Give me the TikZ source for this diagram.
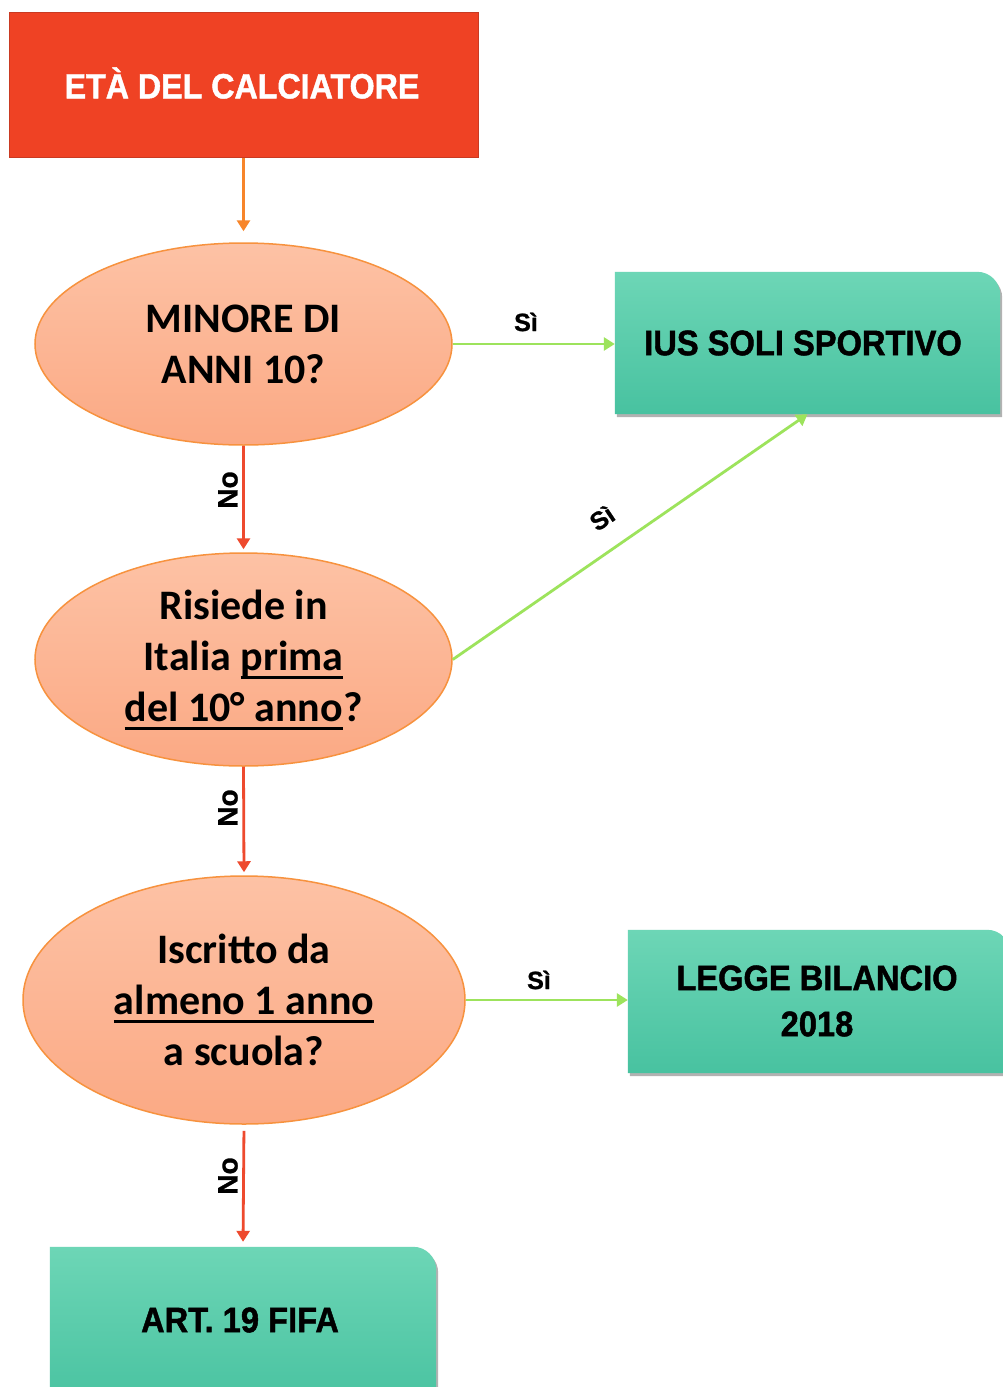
\documentclass[tikz,border=0pt]{standalone}
\usepackage{fontspec}
\setmainfont{Carlito}
\newfontfamily\boxfont[FakeStretch=0.92, BoldFeatures={FakeBold=1.3}]{Liberation Sans}
\newfontfamily\lblfont[BoldFeatures={FakeBold=1}]{Liberation Sans}
\usetikzlibrary{arrows.meta,shapes.geometric,shadows}
\definecolor{topred}{HTML}{EF4224}
\definecolor{topredborder}{HTML}{C93A22}
\definecolor{peachtop}{HTML}{FDC2A5}
\definecolor{peachbot}{HTML}{FBA984}
\definecolor{peachborder}{HTML}{F7923E}
\definecolor{tealtop}{HTML}{6DD6B6}
\definecolor{tealbot}{HTML}{48C2A0}
\definecolor{arrorange}{HTML}{F7852A}
\definecolor{arrred}{HTML}{EE4A2E}
\definecolor{arrgreen}{HTML}{9DE35C}
\newcommand\ulx[1]{\setbox0=\hbox{#1}\rlap{\rule[-8pt]{\wd0}{3pt}}\box0}
\begin{document}
\begin{tikzpicture}[x=1pt,y=-1pt,
  topbox/.style={rectangle, fill=topred, draw=topredborder, line width=1pt,
    text=white, font=\boxfont\bfseries\fontsize{35}{40}\selectfont},
  dec/.style={ellipse, inner sep=0pt, top color=peachtop, bottom color=peachbot,
    draw=peachborder, line width=1.5pt},
  dectext/.style={align=center, inner sep=0pt, font=\bfseries\fontsize{42}{51}\selectfont},
  boxframe/.style={rectangle, draw=none, inner sep=0pt},
  tealfill/.style={top color=tealtop, bottom color=tealbot,
    drop shadow={shadow xshift=2pt, shadow yshift=-3pt, opacity=0.3, fill=black}},
  outtext/.style={align=center, inner sep=0pt, font=\boxfont\bfseries\fontsize{35.5}{46}\selectfont},
  lbl/.style={inner sep=0pt, font=\lblfont\bfseries\fontsize{25}{30}\selectfont},
  nolbl/.style={inner sep=0pt, rotate=90, font=\lblfont\bfseries\fontsize{28}{32}\selectfont},
  arr/.style={-{Triangle[width=13pt,length=11pt]}, line width=2.8pt}
]
\useasboundingbox (0,0) rectangle (1003,1387);
\fill[white] (0,0) rectangle (1003,1387);

% start box
\node[topbox, minimum width=469pt, minimum height=145pt] (start) at (243.5,85) {};
\node[inner sep=0pt, text=white, font=\boxfont\bfseries\fontsize{35}{40}\selectfont] (startt) at (242,83) {ETÀ DEL CALCIATORE};

% decision ellipses
\node[dec, minimum width=417pt, minimum height=202pt] (e1) at (243.5,344) {};
\node[dectext] (t1) at (243.5,344) {MINORE DI\\ANNI 10?};
\node[dec, minimum width=417pt, minimum height=213pt] (e2) at (243.5,659.5) {};
\node[dectext] (t2) at (243.5,660) {Risiede in\\Italia \ulx{prima}\\\ulx{del 10° anno}?};
\node[dec, minimum width=442pt, minimum height=248pt] (e3) at (244,1000) {};
\node[dectext] (t3) at (244,1000) {Iscritto da\\\ulx{almeno 1 anno}\\a scuola?};

% outcome boxes
\node[boxframe, minimum width=385pt, minimum height=142pt] (b1) at (807.5,343) {};
\path[tealfill] (b1.south west) -- (b1.north west) -- ([xshift=-23pt]b1.north east)
  arc[start angle=90, end angle=0, radius=23pt] -- (b1.south east) -- cycle;
\node[outtext] (b1t) at (803,343) {IUS SOLI SPORTIVO};

\node[boxframe, minimum width=382pt, minimum height=143pt] (b2) at (819,1001.5) {};
\path[tealfill] (b2.south west) -- (b2.north west) -- ([xshift=-23pt]b2.north east)
  arc[start angle=90, end angle=0, radius=23pt] -- (b2.south east) -- cycle;
\node[outtext] (b2t) at (817,1001) {LEGGE BILANCIO\\2018};

\node[boxframe, minimum width=386pt, minimum height=160pt] (b3) at (243,1327) {};
\path[tealfill] (b3.south west) -- (b3.north west) -- ([xshift=-23pt]b3.north east)
  arc[start angle=90, end angle=0, radius=23pt] -- (b3.south east) -- cycle;
\node[outtext] (b3t) at (240,1320) {ART. 19 FIFA};

% connectors
\draw[arr, arrorange, shorten >=11pt] (start.south) -- (e1.north);
\draw[arr, arrred, shorten >=3pt] (e1.south) -- (e2.north);
\draw[arr, arrred, shorten >=3pt] (e2.south) -- (e3.north);
\draw[arr, arrred, shorten <=6pt, shorten >=5pt] (e3.south) -- (b3.north);
\draw[arr, arrgreen] (e1.east) -- (e1.east -| b1.west);
\draw[arr, arrgreen] (e2.east) -- (b1.south);
\draw[arr, arrgreen] (e3.east) -- (e3.east -| b2.west);

% labels
\node[lbl] (s1) at (526,322) {Sì};
\node[lbl, rotate=34] (s2) at (602,518) {Sì};
\node[lbl] (s3) at (539,980) {Sì};
\node[nolbl] (n1) at (228,490) {No};
\node[nolbl] (n2) at (228,808) {No};
\node[nolbl] (n3) at (228,1176) {No};
\end{tikzpicture}
\end{document}
